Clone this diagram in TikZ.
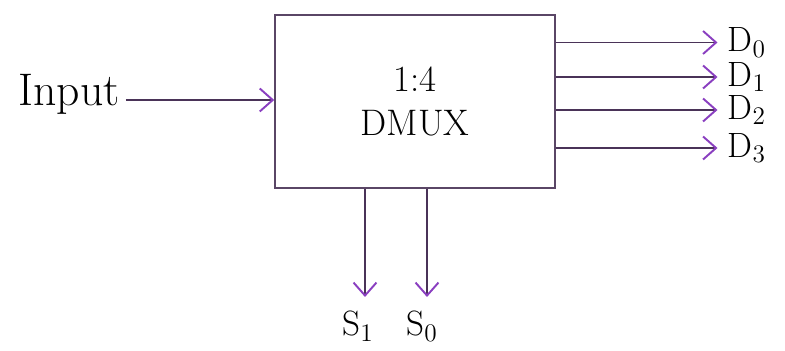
\documentclass[tikz,border=0pt]{standalone}
\usepackage{xcolor}
\definecolor{boxInk}{HTML}{5A4666}
\definecolor{wireInk}{HTML}{4A3358}
\definecolor{tipInk}{HTML}{8A3FC0}
\usepackage{tikz}
\usetikzlibrary{arrows.meta}

\begin{document}
\begin{tikzpicture}[>={Straight Barb[length=2.6mm, width=4.6mm, line width=1.1pt, color=tipInk]},
  wire/.style={->, wireInk, line width=1.1pt},
  big/.style={font=\fontsize{21}{25}\selectfont},
  pin/.style={font=\fontsize{20}{24}\selectfont, inner sep=0pt}]
  \useasboundingbox (0,0) rectangle (15.7,7.02);
  % the demultiplexer block
  \node[draw=boxInk, line width=0.9pt, minimum width=5.6cm, minimum height=3.46cm,
        align=center, big] (dmux) at (8.3,4.99) {1:4\\DMUX};
  % input side
  \node[font=\fontsize{26}{30}\selectfont] (inp) at (1.38,5.14) {Input};
  \draw[wire] (inp.east |- 0,5.02) -- (dmux.west |- 0,5.02);
  % outputs D0..D3
  \foreach \k/\y in {0/6.17, 1/5.48, 2/4.82, 3/4.06} {
    \node[anchor=west, pin] (d\k) at (14.55,\y) {D$_{\k}$};
    \draw[wire, shorten >=0.2cm] (dmux.east |- d\k) -- (d\k.west);
  }
  % select lines
  \node[pin] (s1) at (7.16,0.5) {S$_1$};
  \node[pin] (s0) at (8.44,0.5) {S$_0$};
  \coordinate (t1) at (7.3,1.08);
  \coordinate (t0) at (8.54,1.08);
  \draw[wire] (dmux.south -| t1) -- (t1);
  \draw[wire] (dmux.south -| t0) -- (t0);
\end{tikzpicture}
\end{document}
